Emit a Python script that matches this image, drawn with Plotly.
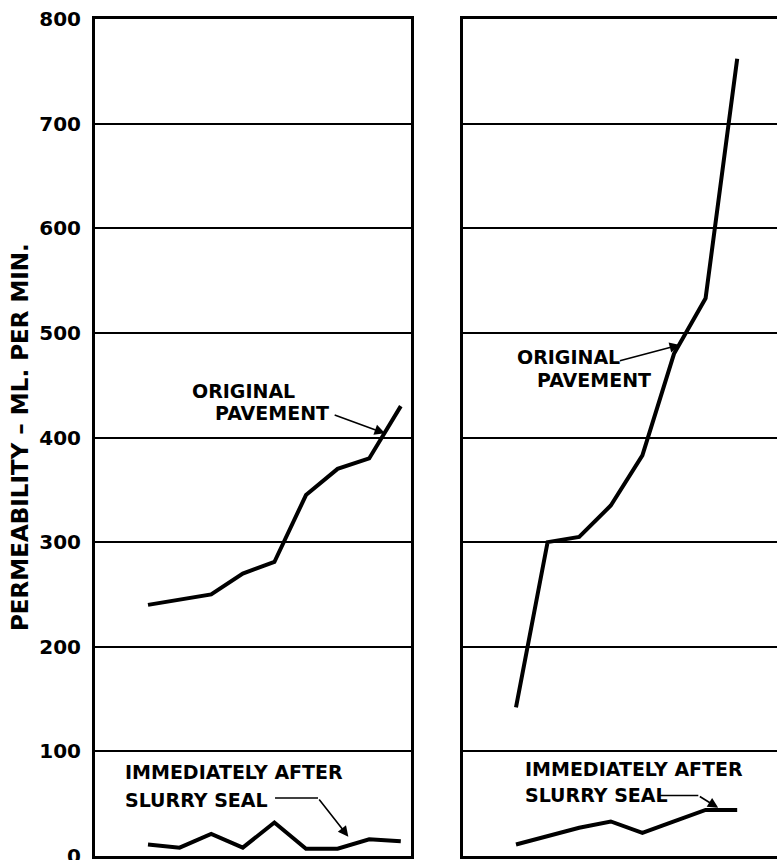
import plotly.graph_objects as go

# Test sections along each pavement (ordered by permeability)
sites_left = [1, 2, 3, 4, 5, 6, 7, 8, 9]
original_left = [240, 245, 250, 270, 281, 345, 370, 380, 430]
slurry_left = [11, 8, 21, 8, 32, 7, 7, 16, 14]

sites_right = [1, 2, 3, 4, 5, 6, 7, 8]
original_right = [142, 300, 305, 335, 383, 480, 533, 762]
slurry_right = [11, 19, 27, 33, 22, 33, 44, 44]

y_ticks = [0, 100, 200, 300, 400, 500, 600, 700, 800]
y_tick_text = ["0", "100", "200", "300", "400", "500", "600", "700", "800"]

FONT = "DejaVu Sans"
INK = "black"
LINE_W = 4

fig = go.Figure()

for xa, ya, xs, ys in [("x", "y", sites_left, original_left),
                       ("x", "y", sites_left, slurry_left),
                       ("x2", "y2", sites_right, original_right),
                       ("x2", "y2", sites_right, slurry_right)]:
    fig.add_trace(go.Scatter(x=xs, y=ys, xaxis=xa, yaxis=ya, mode="lines",
                             line=dict(color=INK, width=LINE_W),
                             hoverinfo="skip", showlegend=False))

y_dom = [4 / 860, 841 / 860]
common_x = dict(showgrid=False, zeroline=False, showticklabels=False,
                showline=True, linecolor=INK, linewidth=3, ticks="",
                automargin=False)
common_y = dict(range=[0, 800], tickvals=y_ticks, showgrid=True,
                gridcolor=INK, gridwidth=1.5, zeroline=False,
                showline=True, linecolor=INK, linewidth=3, ticks="",
                automargin=False)

fig.update_layout(
    width=777, height=860,
    margin=dict(l=0, r=0, t=0, b=0, pad=0),
    paper_bgcolor="white", plot_bgcolor="white",
    xaxis=dict(domain=[95 / 777, 411 / 777], range=[-0.677, 9.323],
               mirror=True, anchor="y", **common_x),
    yaxis=dict(domain=y_dom, anchor="x", mirror=True,
               ticktext=y_tick_text, showticklabels=True,
               ticklabelstandoff=7, ticklabeloverflow="allow",
               tickfont=dict(family=FONT, size=20, color=INK, weight="bold"),
               **common_y),
    xaxis2=dict(domain=[463 / 777, 1.0], range=[-0.677, 9.26],
                mirror=True, anchor="y2", **common_x),
    yaxis2=dict(domain=y_dom, anchor="x2", mirror=False,
                showticklabels=False, **common_y),
)

label_font = dict(family=FONT, size=19, color=INK, weight="bold")


def label(text, x, y, xref, yref):
    fig.add_annotation(text=text, x=x, y=y, xref=xref, yref=yref,
                       xanchor="left", yanchor="middle", showarrow=False,
                       font=label_font)


def pointer(tail, tip, xref, yref):
    fig.add_annotation(text="", x=tip[0], y=tip[1], ax=tail[0], ay=tail[1],
                       xref=xref, yref=yref, axref=xref, ayref=yref,
                       showarrow=True, arrowhead=2, arrowsize=1.3,
                       arrowwidth=1.6, arrowcolor=INK, standoff=0)


# Left panel labels
label("ORIGINAL", 2.33, 444, "x", "y")
label("PAVEMENT", 3.06, 423, "x", "y")
pointer((6.86, 422), (8.50, 404), "x", "y")

label("IMMEDIATELY AFTER", 0.21, 80, "x", "y")
label("SLURRY SEAL", 0.21, 53.5, "x", "y")
fig.add_shape(type="line", x0=5.02, y0=55.4, x1=6.38, y1=55.4,
              xref="x", yref="y", line=dict(color=INK, width=1.6))
pointer((6.38, 55.4), (7.34, 18.5), "x", "y")

# Right panel labels
label("ORIGINAL", 0.97, 477, "x2", "y2")
label("PAVEMENT", 1.60, 455, "x2", "y2")
pointer((4.24, 473), (6.19, 488.5), "x2", "y2")

label("IMMEDIATELY AFTER", 1.23, 83, "x2", "y2")
label("SLURRY SEAL", 1.23, 58.3, "x2", "y2")
fig.add_shape(type="line", x0=5.56, y0=57.8, x1=6.77, y1=57.8,
              xref="x2", yref="y2", line=dict(color=INK, width=1.6))
pointer((6.77, 57.8), (7.40, 46), "x2", "y2")

# Shared vertical axis title
fig.add_annotation(text="PERMEABILITY – ML. PER MIN.",
                   x=20 / 777, y=(860 - 437) / 860, xref="paper", yref="paper",
                   xanchor="center", yanchor="middle", textangle=-90,
                   showarrow=False,
                   font=dict(family=FONT, size=23, color=INK, weight="bold"))

fig.write_html("out.html")
